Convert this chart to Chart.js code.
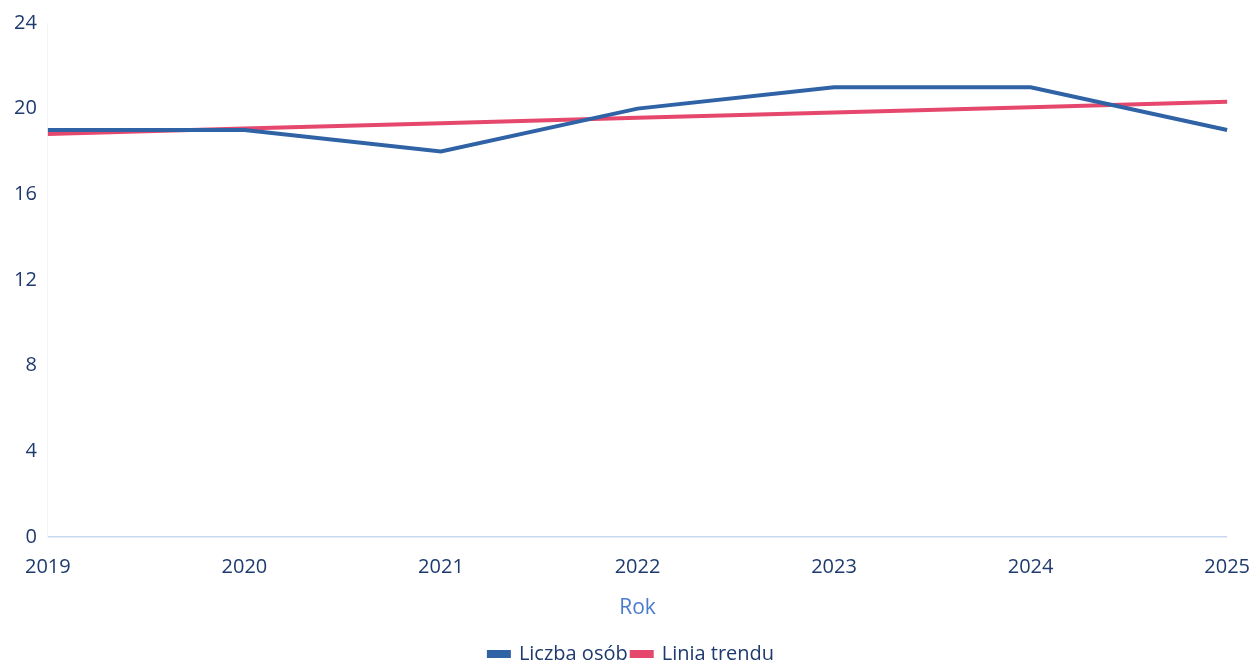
<!DOCTYPE html>
<html>
<head>
<meta charset="utf-8">
<script src="https://cdn.jsdelivr.net/npm/chart.js@4"></script>
<style>
  html, body { margin: 0; padding: 0; background: #fff; overflow: hidden; }
  #wrap { width: 1260px; height: 669px; overflow: hidden; }
</style>
</head>
<body>
<div id="wrap"><canvas id="main-chart" width="1260" height="674"></canvas></div>
<script>
const years = ['2019', '2020', '2021', '2022', '2023', '2024', '2025'];
const liczbaOsob = [19, 19, 18, 20, 21, 21, 19];
const liniaTrendu = [18.82, 19.07, 19.32, 19.57, 19.82, 20.07, 20.32];
const yTicks = [0, 4, 8, 12, 16, 20, 24];

const navy = '#1e3a6e';
const ctx = document.getElementById('main-chart').getContext('2d');
new Chart(ctx, {
  type: 'line',
  data: {
    labels: years,
    datasets: [{
      label: 'Liczba osób',
      data: liczbaOsob,
      borderColor: '#2f63a6',
      backgroundColor: '#2f63a6',
      borderWidth: 4,
      pointRadius: 0,
      tension: 0
    }, {
      label: 'Linia trendu',
      data: liniaTrendu,
      borderColor: '#e5486c',
      backgroundColor: '#e5486c',
      borderWidth: 4,
      pointRadius: 0,
      tension: 0
    }]
  },
  options: {
    responsive: false,
    animation: false,
    layout: { padding: { top: 15, right: 0, left: 3, bottom: 0 } },
    scales: {
      x: {
        offset: false,
        grid: { display: false },
        border: { display: false },
        ticks: { color: navy, font: { family: 'Open Sans', size: 20 }, maxRotation: 0, padding: 10 },
        title: { display: true, text: 'Rok', color: '#4a7ccc', font: { family: 'Open Sans', size: 21 }, padding: { top: 7, bottom: 19 } }
      },
      y: {
        min: 0,
        max: 24,
        afterBuildTicks: axis => { axis.ticks = yTicks.map(v => ({ value: v })); },
        grid: {
          drawTicks: false,
          color: ctx => ctx.tick.value === 0 ? '#c8d8f0' : 'rgba(0,0,0,0)',
          lineWidth: 1.5
        },
        border: { display: true, color: '#f3f4f7', width: 1 },
        ticks: { color: navy, font: { family: 'Open Sans', size: 20 }, padding: 11 }
      }
    },
    plugins: {
      legend: {
        position: 'bottom',
        labels: {
          color: navy,
          font: { family: 'Open Sans', size: 20 },
          boxWidth: 20,
          boxHeight: 4,
          padding: 4
        }
      },
      tooltip: { enabled: false }
    }
  }
});
</script>
</body>
</html>
